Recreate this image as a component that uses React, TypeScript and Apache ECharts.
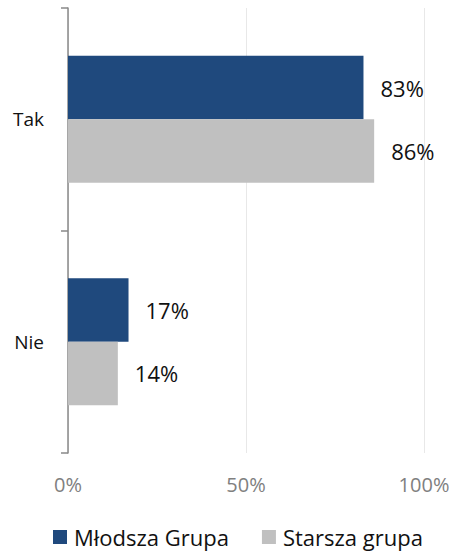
import React, { useEffect, useRef } from "react";
import * as echarts from "echarts";

const categories = ["Tak", "Nie"];
const seriesNames = ["Młodsza Grupa", "Starsza grupa"];
const youngerValues = [83, 17];
const olderValues = [86, 14];
const xTicks = { min: 0, max: 100, interval: 50 };

const FONT = "'Open Sans', 'Noto Sans', sans-serif";

export default function App() {
  const ref = useRef<HTMLDivElement>(null);
  useEffect(() => {
    if (!ref.current) return;
    const chart = echarts.init(ref.current, null, { renderer: "svg" });
    const labelStyle = {
      show: true,
      position: "right" as const,
      distance: 17,
      formatter: "{c}%",
      fontSize: 22,
      color: "#111",
      fontFamily: FONT,
    };
    chart.setOption({
      animation: false,
      textStyle: { fontFamily: FONT },
      grid: { left: 68, right: 30, top: 8, bottom: 100, containLabel: false },
      legend: {
        data: seriesNames,
        left: 48,
        top: 521,
        itemWidth: 14,
        itemHeight: 14,
        itemGap: 33,
        icon: "rect",
        textStyle: { fontSize: 22, color: "#111", fontFamily: FONT, padding: [0, 0, 0, 2] },
      },
      xAxis: {
        type: "value",
        min: xTicks.min,
        max: xTicks.max,
        interval: xTicks.interval,
        axisLine: { show: false },
        axisTick: { show: false },
        axisLabel: {
          formatter: "{value}%",
          color: "#808080",
          fontSize: 20,
          margin: 21,
          fontFamily: FONT,
        },
        splitLine: { show: true, lineStyle: { color: "#e8e8e8", width: 1 } },
      },
      yAxis: {
        type: "category",
        data: categories,
        inverse: true,
        axisLine: { show: true, lineStyle: { color: "#888888", width: 1.5 } },
        axisTick: { show: true, length: 7, lineStyle: { color: "#888888", width: 1.5 } },
        axisLabel: { color: "#111", fontSize: 19, margin: 24, fontFamily: FONT },
      },
      series: [
        {
          name: seriesNames[0],
          type: "bar",
          data: youngerValues,
          barGap: "0%",
          barCategoryGap: "43%",
          itemStyle: { color: "#1f497d" },
          label: labelStyle,
        },
        {
          name: seriesNames[1],
          type: "bar",
          data: olderValues,
          barGap: "0%",
          barCategoryGap: "43%",
          itemStyle: { color: "#c0c0c0" },
          label: labelStyle,
        },
      ],
    });
    return () => chart.dispose();
  }, []);
  return (
    <div
      ref={ref}
      style={{ position: "absolute", left: 0, top: 0, width: 454, height: 553 }}
    />
  );
}
